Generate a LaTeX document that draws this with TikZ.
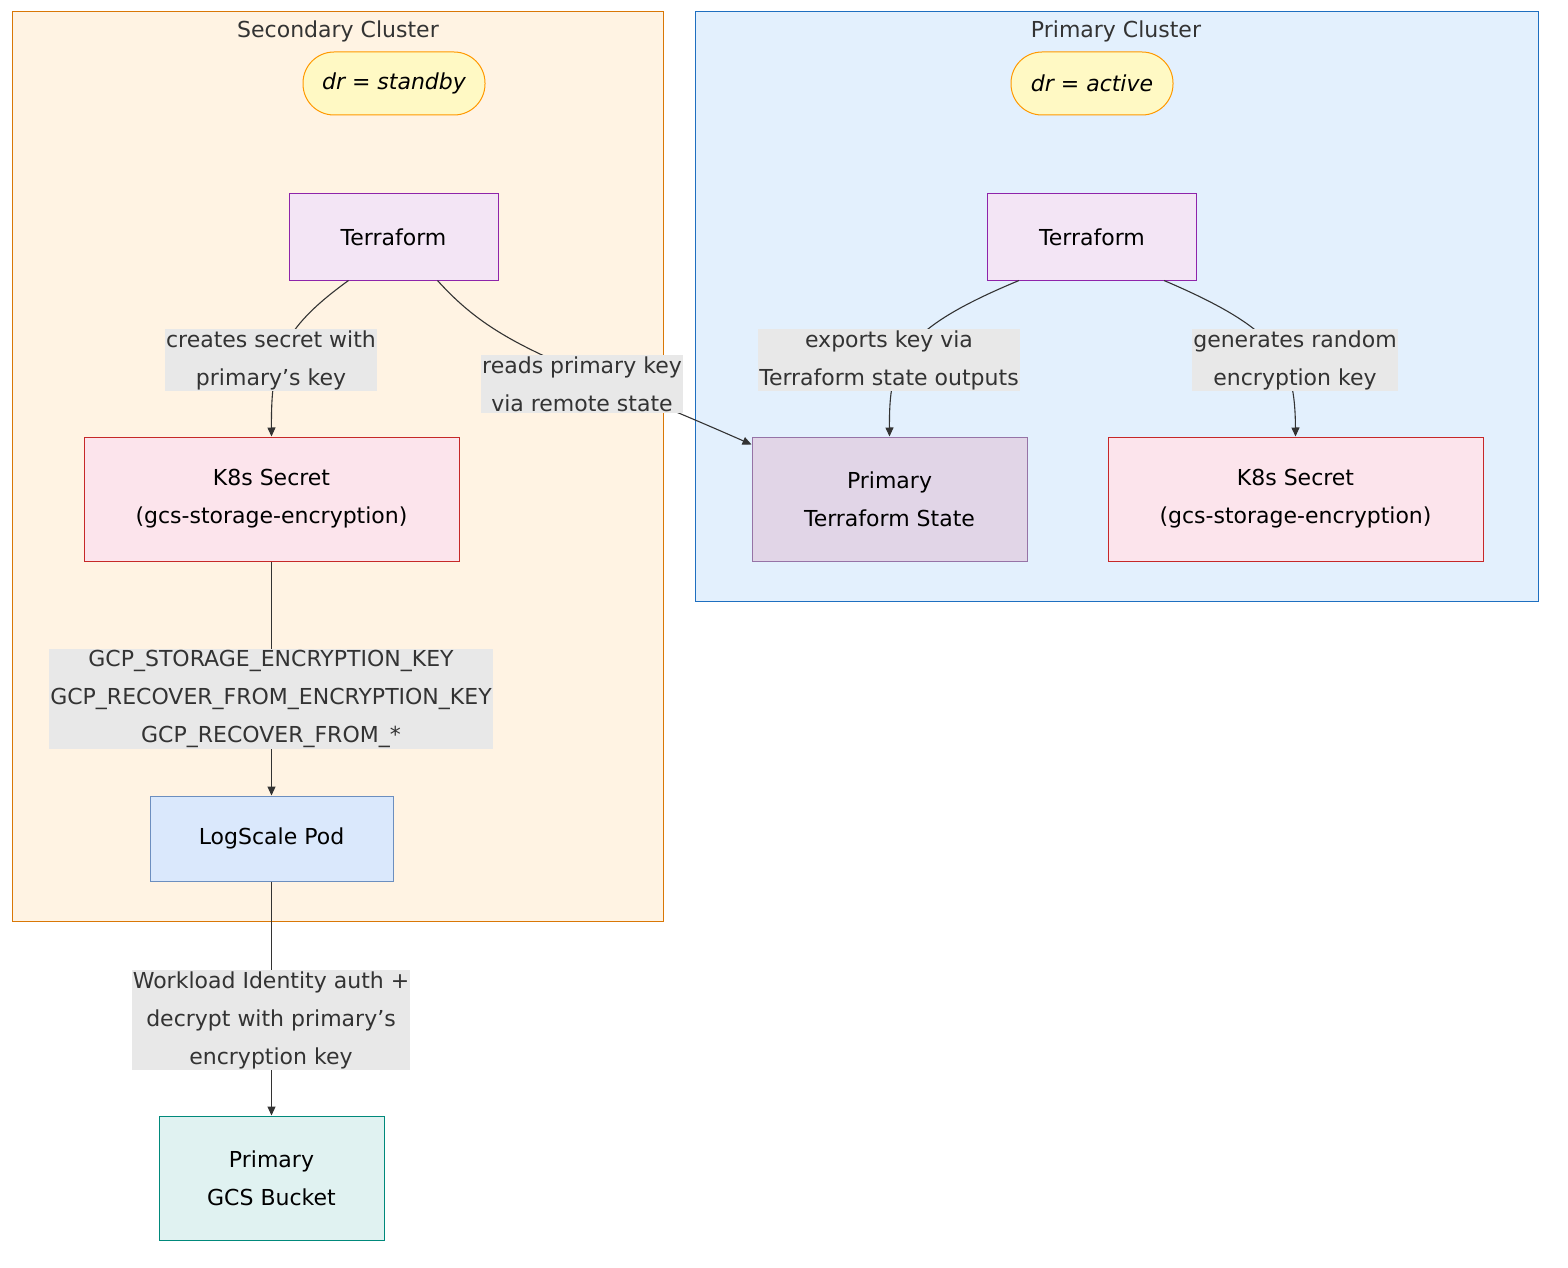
\documentclass[tikz,border=0pt]{standalone}
\usepackage{fontspec}
\setmainfont{DejaVu Sans}
\usetikzlibrary{calc,arrows.meta}
\definecolor{edge}{HTML}{333333}
\tikzset{
 x=1pt,y=-1pt,
 cluster/.style={draw,line width=1pt},
 box/.style={draw,line width=1pt,minimum height=86pt,align=center,font=\fontsize{22}{38}\selectfont},
 pill/.style={draw,line width=1pt,rounded corners=31pt,draw=orange!80!yellow,fill={rgb,255:red,255;green,249;blue,196},minimum height=63pt,font=\fontsize{22}{26}\selectfont\itshape},
 lbl/.style={fill={rgb,255:red,232;green,232;blue,232},align=center,inner sep=1pt,text=edge,font=\fontsize{22}{38}\selectfont},
 conn/.style={draw=edge,line width=1.1pt,-{Triangle[length=9pt,width=8pt]}},
}
\begin{document}
\begin{tikzpicture}
\useasboundingbox (0,0) rectangle (1568,1268);
\draw[cluster,fill={rgb,255:red,255;green,243;blue,227},draw={rgb,255:red,217;green,119;blue,6}] (12,12) rectangle (663,921);
\node[text=edge,font=\fontsize{22}{24}\selectfont] (tsec) at (338,31) {Secondary Cluster};
\draw[cluster,fill={rgb,255:red,227;green,240;blue,253},draw={rgb,255:red,30;green,111;blue,192}] (695,12) rectangle (1538,601);
\node[text=edge,font=\fontsize{22}{24}\selectfont] (tpri) at (1116,31) {Primary Cluster};
\node[pill,minimum width=182pt] (drs) at (394,83.5) {dr = standby};
\node[pill,minimum width=162pt] (dra) at (1092,83.5) {dr = active};
\tikzset{tf/.style={box,fill={rgb,255:red,243;green,229;blue,245},draw={rgb,255:red,142;green,36;blue,170},minimum width=209pt}}
\node[tf] (tfs) at (393.5,237) {Terraform};
\node[tf] (tfp) at (1092,237) {Terraform};
\tikzset{k8/.style={box,fill={rgb,255:red,252;green,228;blue,236},draw={rgb,255:red,198;green,40;blue,40},minimum width=375pt,minimum height=124pt}}
\node[k8] (k8s) at (271.5,499) {K8s Secret\\(gcs-storage-encryption)};
\node[k8] (k8p) at (1295.5,499) {K8s Secret\\(gcs-storage-encryption)};
\node[box,fill={rgb,255:red,225;green,213;blue,231},draw={rgb,255:red,150;green,115;blue,166},minimum width=275pt,minimum height=124pt] (st) at (889.5,499) {Primary\\Terraform State};
\node[box,fill={rgb,255:red,218;green,232;blue,252},draw={rgb,255:red,108;green,142;blue,191},minimum width=243pt,minimum height=85pt] (pod) at (271.5,838.5) {LogScale Pod};
\node[box,fill={rgb,255:red,224;green,242;blue,241},draw={rgb,255:red,0;green,137;blue,123},minimum width=225pt,minimum height=124pt] (gcs) at (271.5,1178) {Primary\\GCS Bucket};
% edges
\draw[conn] ($(tfs.south)+(-45,0)$) .. controls (280,330) and (271,360) .. (k8s.north);
\draw[conn] ($(tfs.south)+(44,0)$) .. controls (500,350) and (560,360) .. ($(st.north west)+(0,8)$);
\draw[conn] ($(tfp.south)+(-73,0)$) .. controls (900,330) and (889,360) .. (st.north);
\draw[conn] ($(tfp.south)+(72,0)$) .. controls (1280,330) and (1295,360) .. (k8p.north);
\draw[conn] (k8s.south) -- (pod.north);
\draw[conn] (pod.south) -- (gcs.north);
% labels
\node[lbl] (l1) at (271,360) {creates secret with\\primary's key};
\node[lbl] (l2) at (582,384) {reads primary key\\via remote state};
\node[lbl] (l3) at (889,360) {exports key via\\Terraform state outputs};
\node[lbl] (l4) at (1295,360) {generates random\\encryption key};
\node[lbl] (l5) at (271,699) {GCP\_STORAGE\_ENCRYPTION\_KEY\\GCP\_RECOVER\_FROM\_ENCRYPTION\_KEY\\GCP\_RECOVER\_FROM\_*};
\node[lbl] (l6) at (271,1020) {Workload Identity auth +\\decrypt with primary's\\encryption key};
\end{tikzpicture}
\end{document}
